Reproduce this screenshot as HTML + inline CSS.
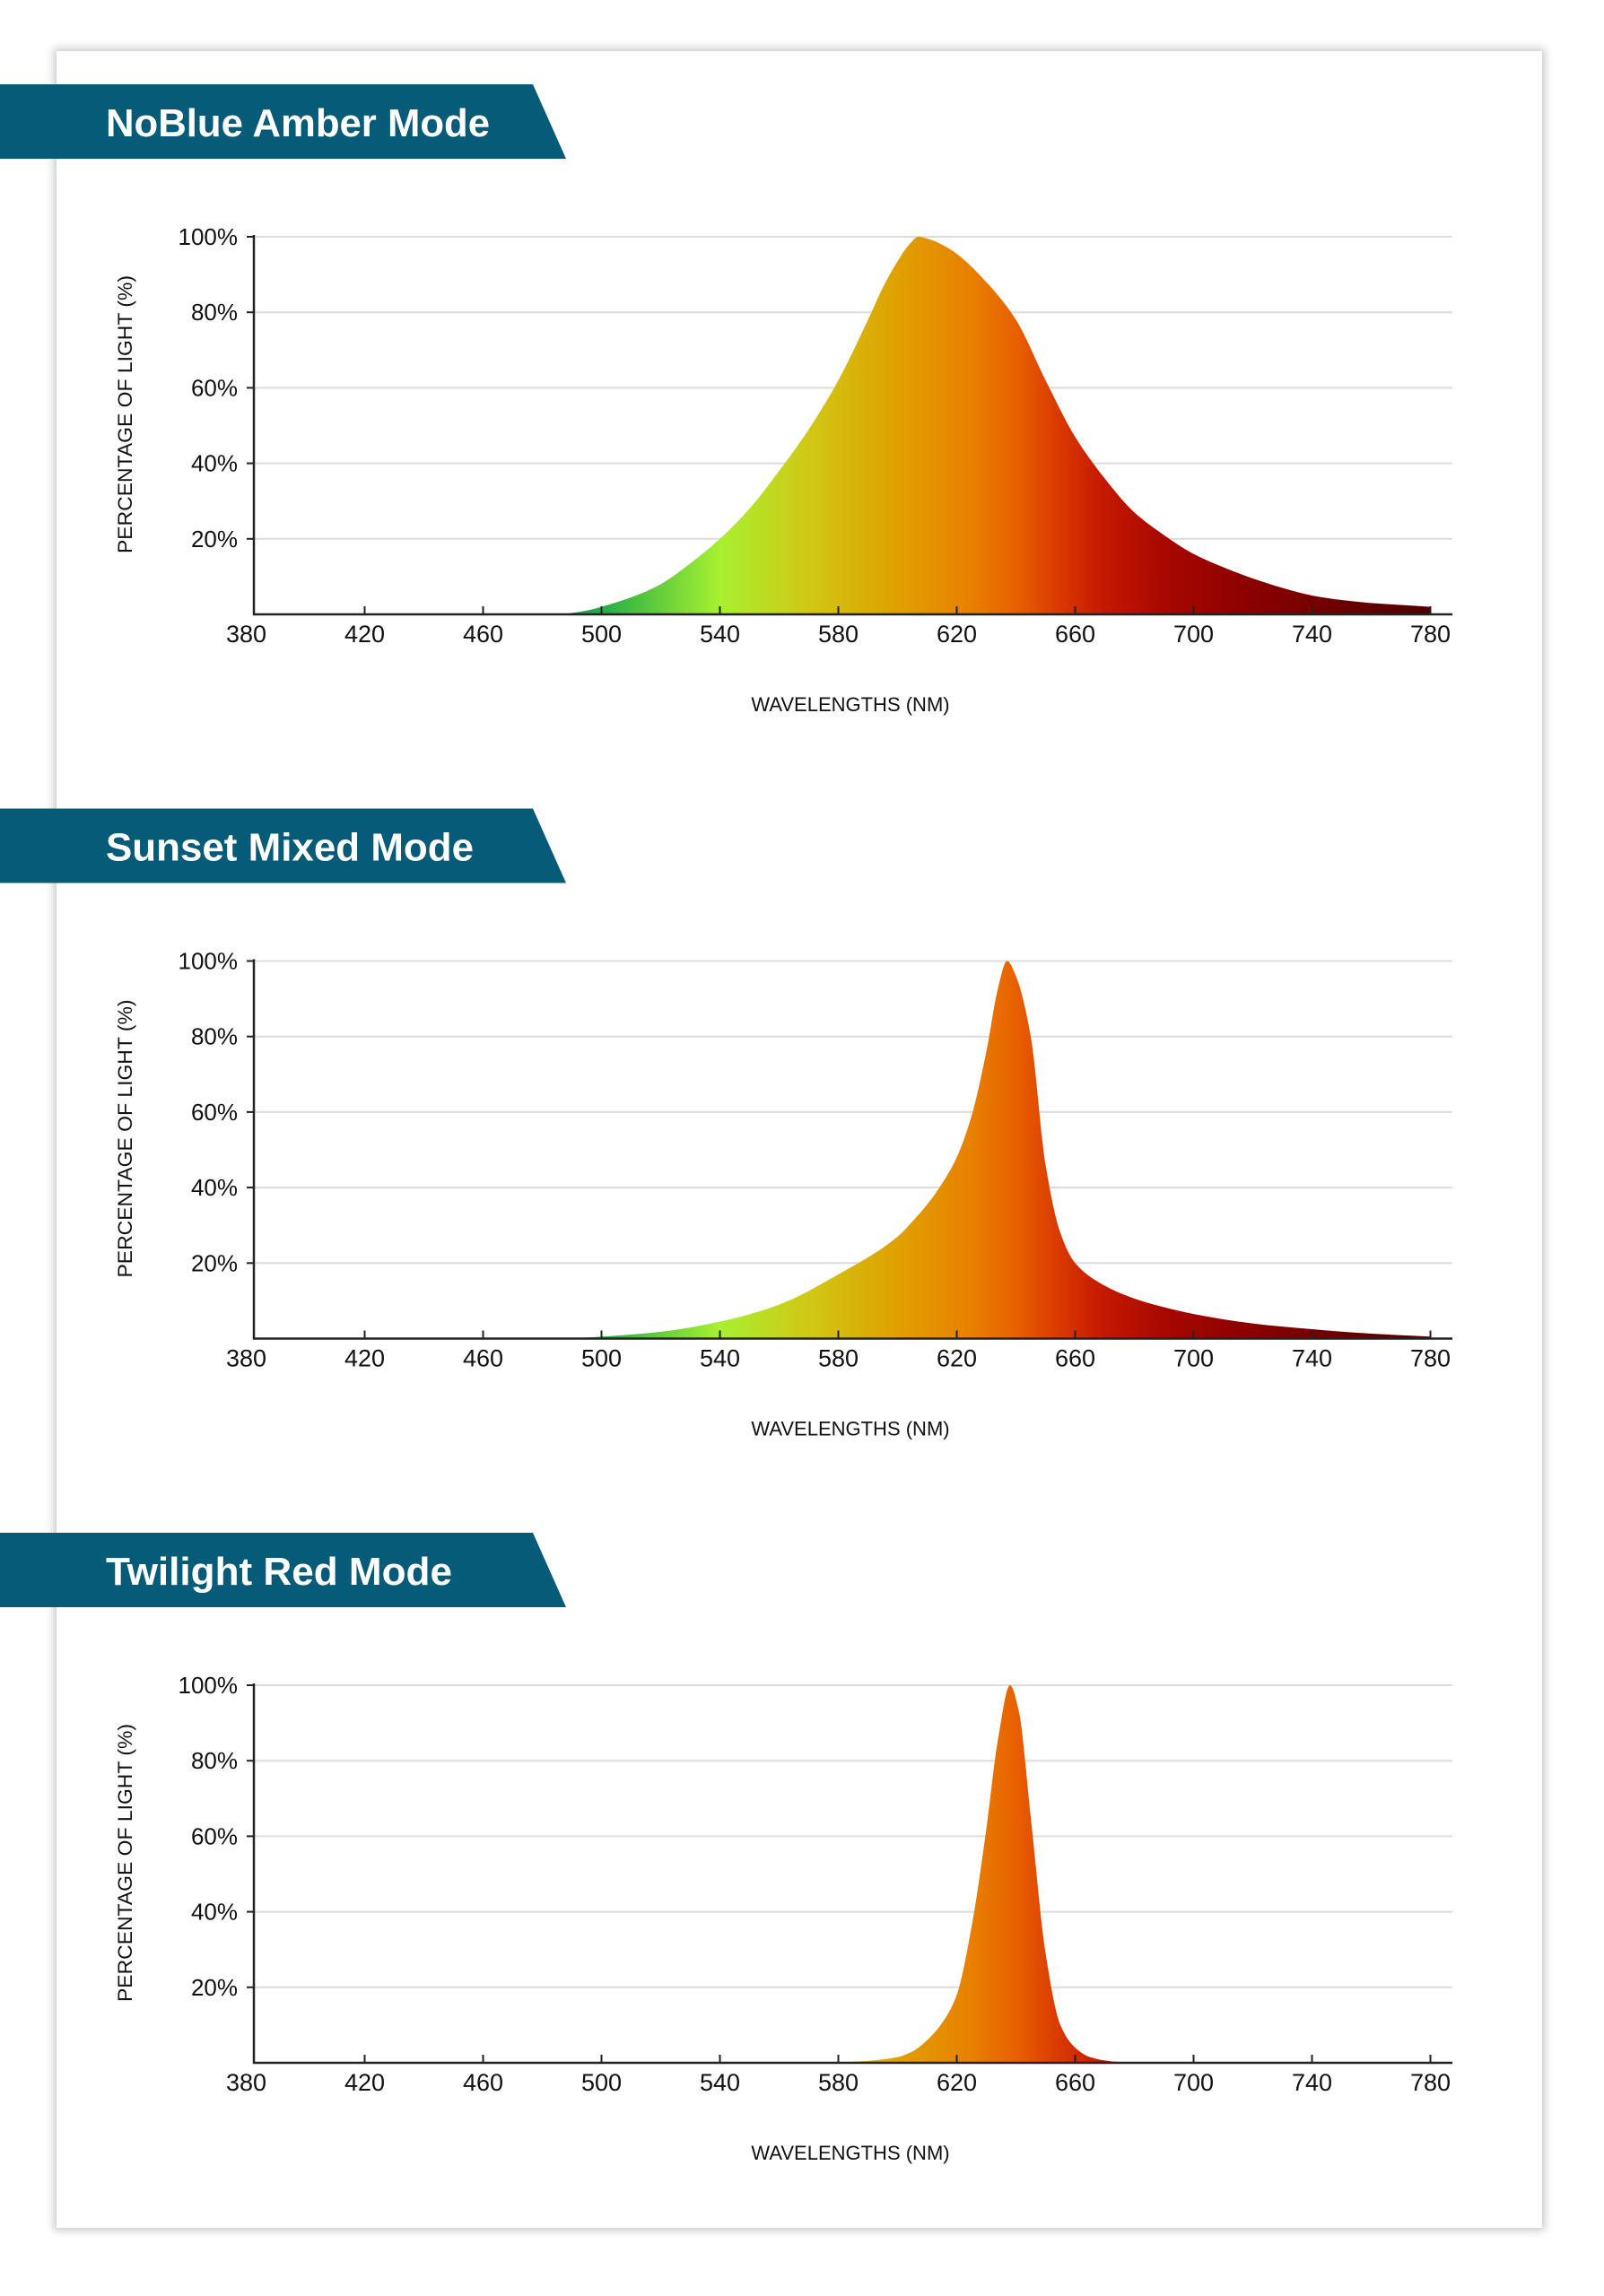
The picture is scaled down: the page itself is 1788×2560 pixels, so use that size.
<!DOCTYPE html>
<html><head><meta charset="utf-8"><style>
html,body{margin:0;padding:0;background:#fff;}
body{width:1788px;height:2560px;position:relative;overflow:hidden;font-family:"Liberation Sans",sans-serif;}
.card{position:absolute;left:63px;top:57px;width:1656px;height:2427px;background:#fff;box-shadow:0 0 9px 3px rgba(0,0,0,0.22);}
svg{position:absolute;left:0;top:0;}
</style></head><body>
<div class="card"></div>
<svg id="s" width="1788" height="2560" xmlns="http://www.w3.org/2000/svg"></svg>
<script>
const NS="http://www.w3.org/2000/svg";
const s=document.getElementById('s');
function el(t,a,txt){const e=document.createElementNS(NS,t);for(const k in a)e.setAttribute(k,a[k]);if(txt!==undefined)e.textContent=txt;s.appendChild(e);return e;}
const X=w=>274.5+(w-380)*3.3;
const titles=["NoBlue Amber Mode","Sunset Mixed Mode","Twilight Red Mode"];
const tw=[428,410,386];
const data=[
 [[487,0],[495,1],[500,2],[510,4.5],[520,8],[530,13.5],[540,20],[550,28],[560,38],[570,49],[580,62],[590,78],[595,86.5],[600,93.5],[604,98],[607,100],[611,99.3],[616,97.5],[620,95.5],[630,88],[640,78],[650,62],[660,47],[670,36],[680,27],[690,21],[700,16],[710,12.5],[720,9.5],[730,7],[740,5],[750,3.8],[760,3],[770,2.5],[780,2]],
 [[487,0],[500,0.5],[520,1.8],[540,4.5],[560,9],[580,17],[600,27],[605,31],[610,35.5],[615,41],[620,48],[625,59],[630,76],[634,93],[637,100],[640,96],[645,80],[650,46],[655,28],[660,20],[670,14],[680,10.6],[690,8.3],[700,6.5],[720,4],[740,2.5],[760,1.3],[780,0.5]],
 [[578,0],[590,0.5],[600,1.5],[605,3],[610,6],[615,10.5],[620,18],[625,36],[630,62],[634,86],[638,100],[641,93],[645,65],[650,29],[655,10],[660,4],[665,1.5],[672,0.4],[680,0]]
];
const stops=[[487,"#1a9460"],[500,"#23ad48"],[540,"#a8f030"],[570,"#d0c814"],[600,"#e0a000"],[625,"#e88000"],[640,"#e86000"],[655,"#d83800"],[670,"#c41800"],[690,"#a80800"],[720,"#8a0000"],[780,"#4e0000"]];
const defs=el('defs',{});
function mono(pts){const n=pts.length,xs=pts.map(p=>p[0]),ys=pts.map(p=>p[1]);const d=[],m=[];
 for(let i=0;i<n-1;i++)d.push((ys[i+1]-ys[i])/(xs[i+1]-xs[i]));
 m[0]=d[0];m[n-1]=d[n-2];
 for(let i=1;i<n-1;i++){if(d[i-1]*d[i]<=0)m[i]=0;else{const w1=2*(xs[i+1]-xs[i])+(xs[i]-xs[i-1]),w2=(xs[i+1]-xs[i])+2*(xs[i]-xs[i-1]);m[i]=(w1+w2)/(w1/d[i-1]+w2/d[i]);}}
 let out="M"+xs[0]+","+ys[0];
 for(let i=0;i<n-1;i++){const h=xs[i+1]-xs[i];out+=` C${xs[i]+h/3},${ys[i]+m[i]*h/3} ${xs[i+1]-h/3},${ys[i+1]-m[i+1]*h/3} ${xs[i+1]},${ys[i+1]}`;}
 return out;}
for(let c=0;c<3;c++){
 const o=c*807.5;
 const top=264+o,base=685+o,sc=(base-top)/100;
 el('polygon',{points:`0,${94+o} 594,${94+o} 631,${177+o} 0,${177+o}`,fill:"#065c78"});
 el('text',{x:118,y:152+o,fill:"#fff","font-size":44,"font-weight":"bold",textLength:tw[c],lengthAdjust:"spacingAndGlyphs"},titles[c]);
 for(let i=1;i<=5;i++){const y=base-i*20*sc;
  el('line',{x1:283,x2:1619,y1:y,y2:y,stroke:"#dcdcdc","stroke-width":2});
  el('line',{x1:275,x2:283,y1:y,y2:y,stroke:"#222","stroke-width":2});
  el('text',{x:265,y:y+9,"text-anchor":"end","font-size":26,fill:"#111"},(i*20)+"%");}
 const g=el('linearGradient',{id:"g"+c,gradientUnits:"userSpaceOnUse",x1:X(487),x2:X(780),y1:0,y2:0});
 defs.appendChild(g);
 for(const st of stops){const e=document.createElementNS(NS,'stop');e.setAttribute('offset',((st[0]-487)/293).toFixed(4));e.setAttribute('stop-color',st[1]);g.appendChild(e);}
 const pts=data[c].map(p=>[X(p[0]),base-p[1]*sc]);
 let d=mono(pts)+` L${pts[pts.length-1][0]},${base} L${pts[0][0]},${base} Z`;
 el('path',{d:d,fill:`url(#g${c})`});
 el('line',{x1:283,x2:283,y1:top-2,y2:base+1,stroke:"#222","stroke-width":2.5});
 el('line',{x1:282,x2:1619,y1:base,y2:base,stroke:"#222","stroke-width":2.5});
 for(let w=380;w<=780;w+=40){const x=X(w);
  if(w>380)el('line',{x1:x,x2:x,y1:base-9,y2:base,stroke:"#222","stroke-width":2});
  el('text',{x:x,y:base+31,"text-anchor":"middle","font-size":27,fill:"#111"},w);}
 el('text',{x:948,y:785+o+8,"text-anchor":"middle","font-size":22,fill:"#111"},"WAVELENGTHS (NM)");
 el('text',{x:0,y:0,transform:`translate(147,${462+o}) rotate(-90)`,"text-anchor":"middle","font-size":22,fill:"#111",textLength:310,lengthAdjust:"spacingAndGlyphs"},"PERCENTAGE OF LIGHT (%)");
}
</script>
</body></html>
